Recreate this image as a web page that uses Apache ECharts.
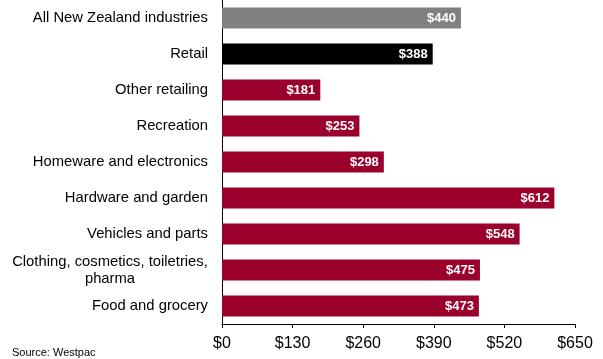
<!DOCTYPE html>
<html>
<head>
<meta charset="utf-8">
<script src="https://cdn.jsdelivr.net/npm/echarts@6/dist/echarts.min.js"></script>
<style>
  html, body { margin: 0; padding: 0; background: #fff; }
  #chart { width: 603px; height: 359px; }
</style>
</head>
<body>
<div id="chart"></div>
<script>
// Categories listed top to bottom
const categories = [
  'All New Zealand industries',
  'Retail',
  'Other retailing',
  'Recreation',
  'Homeware and electronics',
  'Hardware and garden',
  'Vehicles and parts',
  'Clothing, cosmetics, toiletries,\npharma',
  'Food and grocery'
];
// Average spend per transaction ($)
const values = [440, 388, 181, 253, 298, 612, 548, 475, 473];
const barColors = ['#808080', '#000000', '#9b002c', '#9b002c', '#9b002c', '#9b002c', '#9b002c', '#9b002c', '#9b002c'];
const axisTicks = [0, 130, 260, 390, 520, 650];

const chart = echarts.init(document.getElementById('chart'), null, { renderer: 'canvas' });
const font = 'Liberation Sans, Arial, sans-serif';
const catFontSize = 14.8;
const catLineHeight = 17;

// Wrapped labels centre each line under the widest one
const measure = document.createElement('canvas').getContext('2d');
measure.font = catFontSize + 'px ' + font;
const rich = {};

function categoryLabel(text) {
  const lines = text.split('\n');
  if (lines.length === 1) return text;
  const w = Math.ceil(Math.max(...lines.map(l => measure.measureText(l).width)));
  const key = 'c' + w;
  rich[key] = { width: w, align: 'center', fontSize: catFontSize, fontFamily: font, color: '#000', lineHeight: catLineHeight };
  return lines.map(l => '{' + key + '|' + l + '}').join('\n');
}
categories.forEach(categoryLabel);

chart.setOption({
  animation: false,
  grid: { left: 222, right: 28, top: 0, bottom: 35, containLabel: false },
  xAxis: {
    type: 'value',
    min: axisTicks[0],
    max: axisTicks[axisTicks.length - 1],
    interval: axisTicks[1] - axisTicks[0],
    axisLine: { show: true, lineStyle: { color: '#000', width: 1 } },
    axisTick: { show: true, length: 4, lineStyle: { color: '#000' } },
    splitLine: { show: false },
    axisLabel: {
      color: '#000', fontFamily: font, fontSize: 16, margin: 12,
      formatter: v => '$' + v
    }
  },
  yAxis: {
    type: 'category',
    data: categories,
    inverse: true,
    axisLine: { show: true, lineStyle: { color: '#000', width: 1 } },
    axisTick: { show: false },
    axisLabel: {
      color: '#000', fontFamily: font, fontSize: catFontSize, margin: 14,
      align: 'right', lineHeight: catLineHeight,
      formatter: categoryLabel,
      rich: rich
    }
  },
  series: [{
    type: 'bar',
    barWidth: 21,
    data: values.map((v, i) => ({ value: v, itemStyle: { color: barColors[i] } })),
    label: {
      show: true,
      position: 'insideRight',
      distance: 5,
      color: '#fff',
      fontFamily: font,
      fontWeight: 'bold',
      fontSize: 13,
      formatter: p => '$' + p.value
    }
  }],
  graphic: [{
    type: 'text',
    left: 12,
    top: 347,
    style: { text: 'Source: Westpac', fill: '#000', font: '11px ' + font }
  }]
});
</script>
</body>
</html>
